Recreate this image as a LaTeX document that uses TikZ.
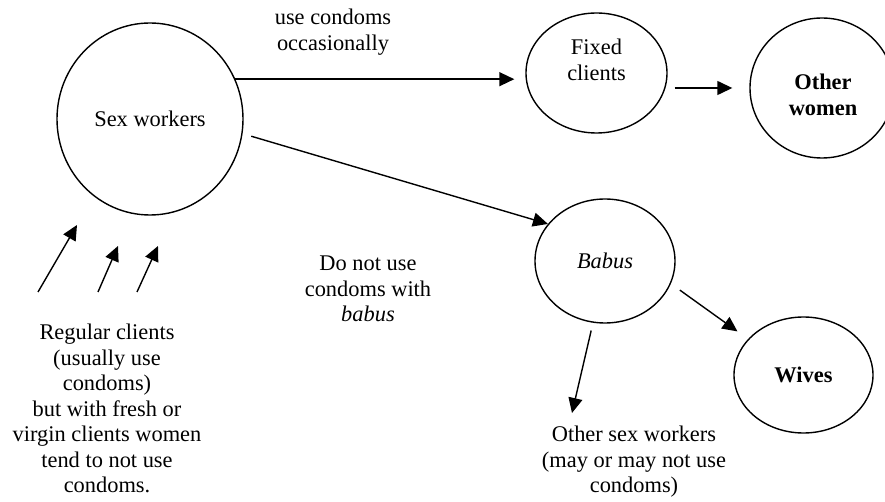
\documentclass[tikz,border=0pt]{standalone}
\usepackage{fontspec}
\setmainfont{Liberation Serif}
\usetikzlibrary{shapes.geometric, arrows.meta, positioning}

\tikzset{
  bubble/.style={draw, ellipse, line width=0.7pt, inner sep=0pt},
  arr/.style={line width=0.7pt, -{Triangle[length=7.5pt,width=7pt]}},
  txt/.style={align=center},
}

\begin{document}
\begin{tikzpicture}[x=0.5pt, y=-0.5pt,
    every node/.style={font=\fontsize{11.2}{12.75}\selectfont}]
  \clip (0,0) rectangle (885,502);
  % groups
  \node[bubble, minimum width=93pt, minimum height=96pt] (sw) at (150,119) {Sex workers};
  \node[bubble, minimum width=70.5pt, minimum height=60pt] (fc) at (596.5,73) {};
  \node[txt] (fctext) at (596.5,60) {Fixed\\clients};
  \node[bubble, minimum width=72pt, minimum height=70pt] (ow) at (822,88) {};
  \node[txt] (owtext) at (823,95) {\textbf{Other}\\\textbf{women}};
  \node[bubble, minimum width=70pt, minimum height=62pt] (bb) at (605,261) {\textit{Babus}};
  \node[bubble, minimum width=69.5pt, minimum height=58pt] (wv) at (803.5,375) {\textbf{Wives}};
  % labels
  \node[txt] (occ) at (333,32) {use condoms\\occasionally};
  \node[txt] (nobabu) at (368,289) {Do not use\\condoms with\\\textit{babus}};
  \node[txt] (rc) at (107,408.5) {Regular clients\\(usually use\\condoms)\\but with fresh or\\virgin clients women\\tend to not use\\condoms.};
  \node[txt] (osw) at (634,462) {Other sex workers\\(may or may not use\\condoms)};
  % links
  \draw[arr, shorten >=5.5pt] (sw.25) -- (sw.25 -| fc.west);
  \draw[arr, shorten <=3.5pt, shorten >=8.5pt] (fc.east |- ow.west) -- (ow.west);
  \draw[arr, shorten <=4.5pt] (sw.-9) -- (bb.147);
  \draw[arr, shorten <=5.5pt, shorten >=6.5pt] (bb.-19) -- (wv.147);
  \coordinate (oswtip) at (572,413);
  \draw[arr, shorten <=4pt] (bb.-101) -- (oswtip);
  % clients coming in
  \foreach \i/\sx/\tx/\ty in {1/38/77/225, 2/98/118/246, 3/137/158/246}{
    \coordinate (rcfoot\i) at (\sx,292);
    \coordinate (rchead\i) at (\tx,\ty);
    \draw[arr] (rcfoot\i) -- (rchead\i);
  }
\end{tikzpicture}
\end{document}
